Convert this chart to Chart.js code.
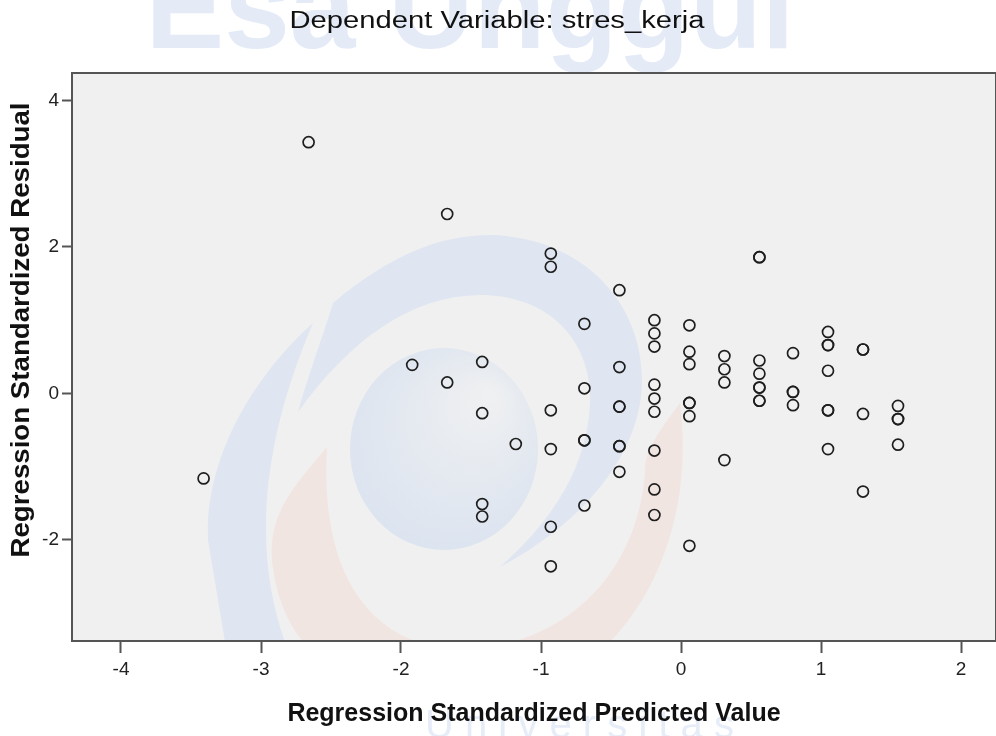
<!DOCTYPE html>
<html>
<head>
<meta charset="utf-8">
<script src="https://cdn.jsdelivr.net/npm/chart.js@4"></script>
<style>
  html, body { margin: 0; padding: 0; background: #fff; }
  #wrap { width: 996px; height: 736px; }
</style>
</head>
<body>
<div id="wrap"><canvas id="scatter" width="996" height="736"></canvas></div>
<script>
// predicted value (x) and residual (y)
const predicted = [
  -3.41,
  -2.66,
  -1.92,
  -1.67, -1.67,
  -1.42, -1.42, -1.42, -1.42,
  -1.18,
  -0.93, -0.93, -0.93, -0.93, -0.93, -0.93,
  -0.69, -0.69, -0.69, -0.69, -0.69,
  -0.44, -0.44, -0.44, -0.44, -0.44, -0.44, -0.44,
  -0.19, -0.19, -0.19, -0.19, -0.19, -0.19, -0.19, -0.19, -0.19,
  0.06, 0.06, 0.06, 0.06, 0.06, 0.06, 0.06,
  0.31, 0.31, 0.31, 0.31,
  0.56, 0.56, 0.56, 0.56, 0.56, 0.56, 0.56, 0.56,
  0.80, 0.80, 0.80, 0.80,
  1.05, 1.05, 1.05, 1.05, 1.05, 1.05, 1.05,
  1.30, 1.30, 1.30, 1.30,
  1.55, 1.55, 1.55, 1.55
];
const residual = [
  -1.16,
  3.43,
  0.39,
  2.45, 0.15,
  0.43, -0.27, -1.51, -1.68,
  -0.69,
  1.91, 1.73, -0.23, -0.76, -1.82, -2.36,
  0.95, 0.07, -0.64, -0.64, -1.53,
  1.41, 0.36, -0.18, -0.18, -0.72, -0.72, -1.07,
  1.00, 0.82, 0.64, 0.12, -0.07, -0.25, -0.78, -1.31, -1.66,
  0.93, 0.57, 0.40, -0.13, -0.13, -0.31, -2.08,
  0.51, 0.33, 0.15, -0.91,
  1.86, 1.86, 0.45, 0.27, 0.08, 0.08, -0.10, -0.10,
  0.55, 0.02, 0.02, -0.16,
  0.84, 0.66, 0.66, 0.31, -0.23, -0.23, -0.76,
  0.60, 0.60, -0.28, -1.34,
  -0.17, -0.35, -0.35, -0.70
];
const xTicks = [-4, -3, -2, -1, 0, 1, 2];
const yTicks = [-2, 0, 2, 4];

const chartTitle = 'Dependent Variable: stres_kerja';
const xTitle = 'Regression Standardized Predicted Value';
const yTitle = 'Regression Standardized Residual';

const points = predicted.map((x, i) => ({ x: x, y: residual[i] }));
const FONT = '"Liberation Sans", Arial, sans-serif';

// text stretched along its own direction to a given width
function wideText(ctx, text, cx, cy, font, width, angle) {
  ctx.save();
  ctx.font = font;
  ctx.fillStyle = '#111';
  ctx.textAlign = 'center';
  ctx.textBaseline = 'middle';
  const w = ctx.measureText(text).width;
  ctx.translate(cx, cy);
  ctx.rotate(angle);
  ctx.scale(width / w, 1);
  ctx.fillText(text, 0, 0);
  ctx.restore();
}

// grey plot area, faint logo watermark, frame and the titles
const plotBox = {
  id: 'plotBox',
  beforeDraw(chart) {
    const { ctx, chartArea: a } = chart;
    ctx.save();
    ctx.fillStyle = '#e4ebf7';
    ctx.font = 'bold 118px ' + FONT;
    ctx.textAlign = 'center';
    ctx.fillText('Esa Unggul', 470, 48);
    ctx.fillStyle = '#f0f0f0';
    ctx.fillRect(a.left, a.top, a.right - a.left, a.bottom - a.top);
    ctx.beginPath();
    ctx.rect(a.left, a.top, a.right - a.left, a.bottom - a.top);
    ctx.clip();

    // peach swoosh
    ctx.fillStyle = '#f1e5e1';
    ctx.beginPath();
    ctx.moveTo(327, 447);
    ctx.bezierCurveTo(300, 480, 268, 510, 272, 560);
    ctx.bezierCurveTo(280, 640, 330, 700, 470, 705);
    ctx.bezierCurveTo(610, 700, 700, 560, 680, 403);
    ctx.bezierCurveTo(660, 430, 645, 450, 645, 470);
    ctx.bezierCurveTo(640, 560, 580, 640, 470, 650);
    ctx.bezierCurveTo(360, 650, 320, 560, 327, 447);
    ctx.closePath();
    ctx.fill();

    // blue swirl, upper band
    ctx.fillStyle = '#dfe6f1';
    ctx.beginPath();
    ctx.moveTo(298, 412);
    ctx.bezierCurveTo(310, 370, 325, 330, 333, 303);
    ctx.bezierCurveTo(390, 255, 440, 235, 490, 235);
    ctx.bezierCurveTo(580, 237, 642, 300, 642, 380);
    ctx.bezierCurveTo(642, 455, 580, 525, 500, 567);
    ctx.bezierCurveTo(565, 510, 592, 450, 590, 390);
    ctx.bezierCurveTo(585, 330, 540, 295, 480, 295);
    ctx.bezierCurveTo(410, 296, 350, 340, 298, 412);
    ctx.closePath();
    ctx.fill();

    // blue swirl, left band
    ctx.beginPath();
    ctx.moveTo(313, 323);
    ctx.bezierCurveTo(250, 380, 205, 460, 208, 540);
    ctx.lineTo(228, 660);
    ctx.lineTo(292, 660);
    ctx.bezierCurveTo(258, 580, 250, 470, 313, 323);
    ctx.closePath();
    ctx.fill();

    // inner ball
    const g = ctx.createRadialGradient(490, 395, 4, 452, 440, 110);
    g.addColorStop(0, '#eff0f1');
    g.addColorStop(1, '#dce4f0');
    ctx.fillStyle = g;
    ctx.beginPath();
    ctx.ellipse(444, 449, 94, 101, 0, 0, 2 * Math.PI);
    ctx.fill();
    ctx.restore();

    ctx.save();
    ctx.fillStyle = '#e6edf8';
    ctx.font = '40px ' + FONT;
    ctx.fillText('U n i v e r s i t a s', 425, 738);
    ctx.restore();
  },
  afterDraw(chart) {
    const { ctx, chartArea: a } = chart;
    ctx.save();
    ctx.strokeStyle = '#555555';
    ctx.lineWidth = 2;
    ctx.strokeRect(a.left, a.top, a.right - a.left, a.bottom - a.top);
    ctx.restore();
    wideText(ctx, chartTitle, 497, 22, '23px ' + FONT, 415, 0);
    wideText(ctx, yTitle, 22, 330, 'bold 26px ' + FONT, 455, -Math.PI / 2);
  }
};

const ctx = document.getElementById('scatter').getContext('2d');

const scatterChart = new Chart(ctx, {
  type: 'scatter',
  data: {
    datasets: [{
      label: 'stres_kerja',
      data: points,
      pointStyle: 'circle',
      pointRadius: 5.5,
      pointHoverRadius: 5.5,
      borderWidth: 1.7,
      borderColor: '#1e1e1e',
      backgroundColor: 'rgba(0,0,0,0)'
    }]
  },
  options: {
    responsive: false,
    animation: false,
    layout: { autoPadding: false, padding: { left: 0, right: 0, top: 73, bottom: 0 } },
    plugins: {
      legend: { display: false },
      tooltip: { enabled: false },
      title: { display: false }
    },
    scales: {
      x: {
        type: 'linear',
        min: -4.35,
        max: 2.25,
        afterBuildTicks(scale) { scale.ticks = xTicks.map(v => ({ value: v })); },
        afterFit(scale) { scale.height = 95; },
        border: { display: true, color: '#555555', width: 2 },
        grid: { display: true, drawOnChartArea: false, drawTicks: true, tickLength: 12, tickWidth: 2, color: '#555555' },
        ticks: {
          color: '#222',
          padding: 5,
          font: { family: FONT, size: 19 },
          callback: v => String(v)
        },
        title: {
          display: true,
          text: xTitle,
          color: '#111',
          font: { family: FONT, size: 25, weight: 'bold' },
          padding: { top: 0, bottom: 7 }
        }
      },
      y: {
        type: 'linear',
        min: -3.38,
        max: 4.375,
        afterBuildTicks(scale) { scale.ticks = yTicks.map(v => ({ value: v })); },
        afterFit(scale) { scale.width = 72; },
        border: { display: true, color: '#555555', width: 2 },
        grid: { display: true, drawOnChartArea: false, drawTicks: true, tickLength: 10, tickWidth: 2, color: '#555555' },
        ticks: {
          color: '#222',
          padding: 3,
          font: { family: FONT, size: 19 },
          callback: v => String(v)
        }
      }
    }
  },
  plugins: [plotBox]
});
</script>
</body>
</html>
